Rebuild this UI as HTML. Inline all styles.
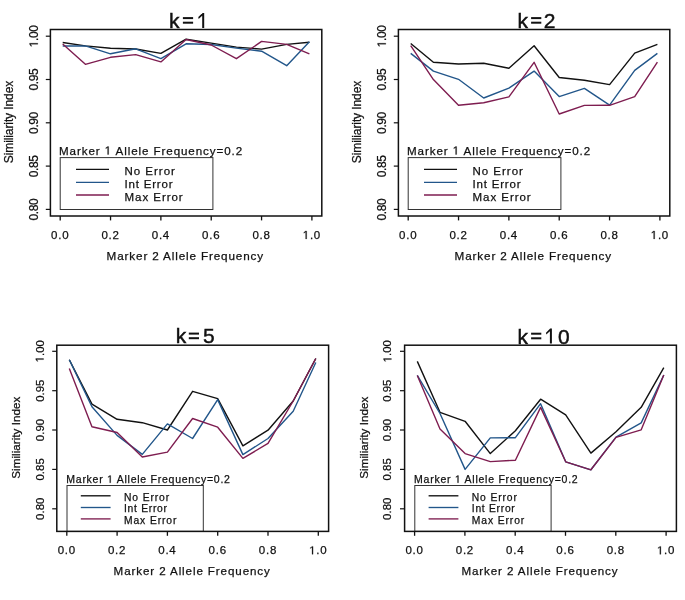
<!DOCTYPE html>
<html><head><meta charset="utf-8"><style>
html,body{margin:0;padding:0;background:#fff;}
svg{display:block;will-change:transform;}
text{font-family:"Liberation Sans", sans-serif;fill:#111;stroke:#111;stroke-width:0.25px;}
</style></head><body>
<svg width="685" height="600" viewBox="0 0 685 600">
<rect width="685" height="600" fill="#fff"/>
<defs><path id="one" d="M515,0 L515,1237 L197,1010 L197,1180 L530,1409 L696,1409 L696,0 Z"/></defs>
<polyline points="62.7,42.5 85.4,45.9 110.5,48.3 135.7,49 160.9,53.4 186.1,39.2 211.2,43.1 236.4,47.1 261.6,49.1 286.7,44.4 309.4,42.3" fill="none" stroke="#111111" stroke-width="1.4" stroke-linejoin="round"/>
<polyline points="62.7,46 85.4,45.9 110.5,53.8 135.7,48.8 160.9,58.6 186.1,43.8 211.2,44.5 236.4,48.1 261.6,51.2 286.7,65.7 309.4,41.8" fill="none" stroke="#22568a" stroke-width="1.4" stroke-linejoin="round"/>
<polyline points="62.7,44 85.4,64.3 110.5,57.3 135.7,54.6 160.9,61.9 186.1,39.5 211.2,45 236.4,58.7 261.6,41.4 286.7,44.4 309.4,53.8" fill="none" stroke="#7e1d50" stroke-width="1.4" stroke-linejoin="round"/>
<rect x="60.2" y="157.6" width="152.7" height="51.9" fill="none" stroke="#333" stroke-width="1"/>
<line x1="76" y1="169.4" x2="109" y2="169.4" stroke="#111111" stroke-width="1.35"/>
<line x1="76" y1="182.3" x2="109" y2="182.3" stroke="#22568a" stroke-width="1.35"/>
<line x1="76" y1="195" x2="109" y2="195" stroke="#7e1d50" stroke-width="1.35"/>
<text x="124.5" y="174.8" font-size="11.5" textLength="50.4" lengthAdjust="spacing">No Error</text>
<text x="124.5" y="187.8" font-size="11.5" textLength="48" lengthAdjust="spacing">Int Error</text>
<text x="124.5" y="200.7" font-size="11.5" textLength="58.2" lengthAdjust="spacing">Max Error</text>
<text x="59" y="154.5" font-size="11.6" textLength="183.1" lengthAdjust="spacing">Marker   Allele Frequency=0.2</text><use href="#one" transform="translate(104.69,154.50) scale(0.00566,-0.00566)" fill="#111" stroke="#111" stroke-width="44.1"/>
<rect x="50.4" y="29.5" width="271.4" height="186.5" fill="none" stroke="#111" stroke-width="1.5"/>
<line x1="45.8" y1="36.2" x2="50.4" y2="36.2" stroke="#111" stroke-width="1.2"/>
<text transform="translate(37.8,36.2) rotate(-90)" x="0" y="0" text-anchor="middle" font-size="12" textLength="22.2" lengthAdjust="spacing"> .00</text><use href="#one" transform="translate(37.8,36.2) rotate(-90) translate(-11.10,0.00) scale(0.00586,-0.00586)" fill="#111" stroke="#111" stroke-width="42.7"/>
<line x1="45.8" y1="79.5" x2="50.4" y2="79.5" stroke="#111" stroke-width="1.2"/>
<text transform="translate(37.8,79.5) rotate(-90)" x="0" y="0" text-anchor="middle" font-size="12" textLength="22.2" lengthAdjust="spacing">0.95</text>
<line x1="45.8" y1="122.8" x2="50.4" y2="122.8" stroke="#111" stroke-width="1.2"/>
<text transform="translate(37.8,122.8) rotate(-90)" x="0" y="0" text-anchor="middle" font-size="12" textLength="22.2" lengthAdjust="spacing">0.90</text>
<line x1="45.8" y1="166.1" x2="50.4" y2="166.1" stroke="#111" stroke-width="1.2"/>
<text transform="translate(37.8,166.1) rotate(-90)" x="0" y="0" text-anchor="middle" font-size="12" textLength="22.2" lengthAdjust="spacing">0.85</text>
<line x1="45.8" y1="209.4" x2="50.4" y2="209.4" stroke="#111" stroke-width="1.2"/>
<text transform="translate(37.8,209.4) rotate(-90)" x="0" y="0" text-anchor="middle" font-size="12" textLength="22.2" lengthAdjust="spacing">0.80</text>
<line x1="60.2" y1="216" x2="60.2" y2="220.4" stroke="#111" stroke-width="1.3"/>
<text x="59.8" y="238.9" text-anchor="middle" font-size="11.5" textLength="17.5" lengthAdjust="spacing">0.0</text>
<line x1="110.54" y1="216" x2="110.54" y2="220.4" stroke="#111" stroke-width="1.3"/>
<text x="110.14" y="238.9" text-anchor="middle" font-size="11.5" textLength="17.5" lengthAdjust="spacing">0.2</text>
<line x1="160.88" y1="216" x2="160.88" y2="220.4" stroke="#111" stroke-width="1.3"/>
<text x="160.48" y="238.9" text-anchor="middle" font-size="11.5" textLength="17.5" lengthAdjust="spacing">0.4</text>
<line x1="211.22" y1="216" x2="211.22" y2="220.4" stroke="#111" stroke-width="1.3"/>
<text x="210.82" y="238.9" text-anchor="middle" font-size="11.5" textLength="17.5" lengthAdjust="spacing">0.6</text>
<line x1="261.56" y1="216" x2="261.56" y2="220.4" stroke="#111" stroke-width="1.3"/>
<text x="261.16" y="238.9" text-anchor="middle" font-size="11.5" textLength="17.5" lengthAdjust="spacing">0.8</text>
<line x1="311.9" y1="216" x2="311.9" y2="220.4" stroke="#111" stroke-width="1.3"/>
<text x="311.5" y="238.9" text-anchor="middle" font-size="11.5" textLength="17.5" lengthAdjust="spacing"> .0</text><use href="#one" transform="translate(302.75,238.90) scale(0.00562,-0.00562)" fill="#111" stroke="#111" stroke-width="44.5"/>
<text x="106.6" y="259.9" font-size="11.7" textLength="156.5" lengthAdjust="spacing">Marker 2 Allele Frequency</text>
<text transform="translate(13.4,122) rotate(-90)" x="0" y="0" text-anchor="middle" font-size="12" textLength="82.5" lengthAdjust="spacing">Similiarity Index</text>
<text x="169.08" y="27.9" font-size="21" style="stroke-width:0.45px">k</text>
<rect x="182.9" y="17.1" width="10.2" height="2" fill="#111"/>
<rect x="182.9" y="21.7" width="10.2" height="2" fill="#111"/>
<path d="M202.2,13 L204.2,13 L204.2,27.9 L202.2,27.9 Z M202.5,13 L203.8,14.2 L198.6,18.9 L198.3,17.1 Z" fill="#111"/>
<polyline points="410.7,43.5 433.4,62.2 458.5,64 483.7,63.3 508.9,68.3 534.1,45.8 559.2,77.5 584.4,80.3 609.6,84.6 634.7,53.1 657.4,44.3" fill="none" stroke="#111111" stroke-width="1.4" stroke-linejoin="round"/>
<polyline points="410.7,53.4 433.4,71.1 458.5,79.3 483.7,98 508.9,88.1 534.1,71.1 559.2,96.6 584.4,88.4 609.6,105.1 634.7,70.4 657.4,53.4" fill="none" stroke="#22568a" stroke-width="1.4" stroke-linejoin="round"/>
<polyline points="410.7,45.6 433.4,79.6 458.5,105.3 483.7,102.7 508.9,96.9 534.1,62.3 559.2,114 584.4,105.4 609.6,105.3 634.7,96.6 657.4,62.2" fill="none" stroke="#7e1d50" stroke-width="1.4" stroke-linejoin="round"/>
<rect x="408.2" y="157.6" width="152.7" height="51.9" fill="none" stroke="#333" stroke-width="1"/>
<line x1="424" y1="169.4" x2="457" y2="169.4" stroke="#111111" stroke-width="1.35"/>
<line x1="424" y1="182.3" x2="457" y2="182.3" stroke="#22568a" stroke-width="1.35"/>
<line x1="424" y1="195" x2="457" y2="195" stroke="#7e1d50" stroke-width="1.35"/>
<text x="472.5" y="174.8" font-size="11.5" textLength="50.4" lengthAdjust="spacing">No Error</text>
<text x="472.5" y="187.8" font-size="11.5" textLength="48" lengthAdjust="spacing">Int Error</text>
<text x="472.5" y="200.7" font-size="11.5" textLength="58.2" lengthAdjust="spacing">Max Error</text>
<text x="407" y="154.5" font-size="11.6" textLength="183.1" lengthAdjust="spacing">Marker   Allele Frequency=0.2</text><use href="#one" transform="translate(452.69,154.50) scale(0.00566,-0.00566)" fill="#111" stroke="#111" stroke-width="44.1"/>
<rect x="398.4" y="29.5" width="271.4" height="186.5" fill="none" stroke="#111" stroke-width="1.5"/>
<line x1="393.8" y1="36.2" x2="398.4" y2="36.2" stroke="#111" stroke-width="1.2"/>
<text transform="translate(385.8,36.2) rotate(-90)" x="0" y="0" text-anchor="middle" font-size="12" textLength="22.2" lengthAdjust="spacing"> .00</text><use href="#one" transform="translate(385.8,36.2) rotate(-90) translate(-11.10,0.00) scale(0.00586,-0.00586)" fill="#111" stroke="#111" stroke-width="42.7"/>
<line x1="393.8" y1="79.5" x2="398.4" y2="79.5" stroke="#111" stroke-width="1.2"/>
<text transform="translate(385.8,79.5) rotate(-90)" x="0" y="0" text-anchor="middle" font-size="12" textLength="22.2" lengthAdjust="spacing">0.95</text>
<line x1="393.8" y1="122.8" x2="398.4" y2="122.8" stroke="#111" stroke-width="1.2"/>
<text transform="translate(385.8,122.8) rotate(-90)" x="0" y="0" text-anchor="middle" font-size="12" textLength="22.2" lengthAdjust="spacing">0.90</text>
<line x1="393.8" y1="166.1" x2="398.4" y2="166.1" stroke="#111" stroke-width="1.2"/>
<text transform="translate(385.8,166.1) rotate(-90)" x="0" y="0" text-anchor="middle" font-size="12" textLength="22.2" lengthAdjust="spacing">0.85</text>
<line x1="393.8" y1="209.4" x2="398.4" y2="209.4" stroke="#111" stroke-width="1.2"/>
<text transform="translate(385.8,209.4) rotate(-90)" x="0" y="0" text-anchor="middle" font-size="12" textLength="22.2" lengthAdjust="spacing">0.80</text>
<line x1="408.2" y1="216" x2="408.2" y2="220.4" stroke="#111" stroke-width="1.3"/>
<text x="407.8" y="238.9" text-anchor="middle" font-size="11.5" textLength="17.5" lengthAdjust="spacing">0.0</text>
<line x1="458.54" y1="216" x2="458.54" y2="220.4" stroke="#111" stroke-width="1.3"/>
<text x="458.14" y="238.9" text-anchor="middle" font-size="11.5" textLength="17.5" lengthAdjust="spacing">0.2</text>
<line x1="508.88" y1="216" x2="508.88" y2="220.4" stroke="#111" stroke-width="1.3"/>
<text x="508.48" y="238.9" text-anchor="middle" font-size="11.5" textLength="17.5" lengthAdjust="spacing">0.4</text>
<line x1="559.22" y1="216" x2="559.22" y2="220.4" stroke="#111" stroke-width="1.3"/>
<text x="558.82" y="238.9" text-anchor="middle" font-size="11.5" textLength="17.5" lengthAdjust="spacing">0.6</text>
<line x1="609.56" y1="216" x2="609.56" y2="220.4" stroke="#111" stroke-width="1.3"/>
<text x="609.16" y="238.9" text-anchor="middle" font-size="11.5" textLength="17.5" lengthAdjust="spacing">0.8</text>
<line x1="659.9" y1="216" x2="659.9" y2="220.4" stroke="#111" stroke-width="1.3"/>
<text x="659.5" y="238.9" text-anchor="middle" font-size="11.5" textLength="17.5" lengthAdjust="spacing"> .0</text><use href="#one" transform="translate(650.75,238.90) scale(0.00562,-0.00562)" fill="#111" stroke="#111" stroke-width="44.5"/>
<text x="454.6" y="259.9" font-size="11.7" textLength="156.5" lengthAdjust="spacing">Marker 2 Allele Frequency</text>
<text transform="translate(361.4,122) rotate(-90)" x="0" y="0" text-anchor="middle" font-size="12" textLength="82.5" lengthAdjust="spacing">Similiarity Index</text>
<text x="517.48" y="27.9" font-size="21" style="stroke-width:0.45px">k</text>
<rect x="531.1" y="17.1" width="10.2" height="2" fill="#111"/>
<rect x="531.1" y="21.7" width="10.2" height="2" fill="#111"/>
<text x="543.74" y="27.9" font-size="21" style="stroke-width:0.45px">2</text>
<polyline points="69.3,359.8 91.95,404.1 117.1,419.3 142.3,422.7 167.4,430 192.6,391.3 217.7,398.6 242.9,445.8 268,430.2 293.2,401 315.8,358.5" fill="none" stroke="#111111" stroke-width="1.4" stroke-linejoin="round"/>
<polyline points="69.3,359.8 91.95,406.7 117.1,435.4 142.3,454.4 167.4,423.9 192.6,438.5 217.7,399.6 242.9,454.6 268,438.5 293.2,411.2 315.8,362.5" fill="none" stroke="#22568a" stroke-width="1.4" stroke-linejoin="round"/>
<polyline points="69.3,368.4 91.95,426.8 117.1,432.5 142.3,457 167.4,452.1 192.6,418.5 217.7,427.2 242.9,458.4 268,443.4 293.2,401 315.8,358.5" fill="none" stroke="#7e1d50" stroke-width="1.4" stroke-linejoin="round"/>
<rect x="67" y="485.5" width="136.3" height="45.9" fill="none" stroke="#333" stroke-width="1"/>
<line x1="80.8" y1="495.8" x2="110.6" y2="495.8" stroke="#111111" stroke-width="1.35"/>
<line x1="80.8" y1="507.5" x2="110.6" y2="507.5" stroke="#22568a" stroke-width="1.35"/>
<line x1="80.8" y1="518.9" x2="110.6" y2="518.9" stroke="#7e1d50" stroke-width="1.35"/>
<text x="124" y="500.5" font-size="10.3" textLength="45.1" lengthAdjust="spacing">No Error</text>
<text x="124" y="512.4" font-size="10.3" textLength="43" lengthAdjust="spacing">Int Error</text>
<text x="124" y="523.8" font-size="10.3" textLength="52.4" lengthAdjust="spacing">Max Error</text>
<text x="66.3" y="482.8" font-size="10.5" textLength="163.6" lengthAdjust="spacing">Marker   Allele Frequency=0.2</text><use href="#one" transform="translate(107.10,482.80) scale(0.00513,-0.00513)" fill="#111" stroke="#111" stroke-width="48.8"/>
<rect x="56.8" y="345.2" width="271.8" height="186.2" fill="none" stroke="#111" stroke-width="1.5"/>
<line x1="52.2" y1="351.3" x2="56.8" y2="351.3" stroke="#111" stroke-width="1.2"/>
<text transform="translate(43.6,351.3) rotate(-90)" x="0" y="0" text-anchor="middle" font-size="11.4" textLength="22.3" lengthAdjust="spacing"> .00</text><use href="#one" transform="translate(43.6,351.3) rotate(-90) translate(-11.15,0.00) scale(0.00557,-0.00557)" fill="#111" stroke="#111" stroke-width="44.9"/>
<line x1="52.2" y1="390.7" x2="56.8" y2="390.7" stroke="#111" stroke-width="1.2"/>
<text transform="translate(43.6,390.7) rotate(-90)" x="0" y="0" text-anchor="middle" font-size="11.4" textLength="22.3" lengthAdjust="spacing">0.95</text>
<line x1="52.2" y1="430" x2="56.8" y2="430" stroke="#111" stroke-width="1.2"/>
<text transform="translate(43.6,430) rotate(-90)" x="0" y="0" text-anchor="middle" font-size="11.4" textLength="22.3" lengthAdjust="spacing">0.90</text>
<line x1="52.2" y1="469.4" x2="56.8" y2="469.4" stroke="#111" stroke-width="1.2"/>
<text transform="translate(43.6,469.4) rotate(-90)" x="0" y="0" text-anchor="middle" font-size="11.4" textLength="22.3" lengthAdjust="spacing">0.85</text>
<line x1="52.2" y1="508.8" x2="56.8" y2="508.8" stroke="#111" stroke-width="1.2"/>
<text transform="translate(43.6,508.8) rotate(-90)" x="0" y="0" text-anchor="middle" font-size="11.4" textLength="22.3" lengthAdjust="spacing">0.80</text>
<line x1="66.8" y1="531.4" x2="66.8" y2="535.8" stroke="#111" stroke-width="1.3"/>
<text x="66.4" y="554.3" text-anchor="middle" font-size="11.5" textLength="17.5" lengthAdjust="spacing">0.0</text>
<line x1="117.1" y1="531.4" x2="117.1" y2="535.8" stroke="#111" stroke-width="1.3"/>
<text x="116.7" y="554.3" text-anchor="middle" font-size="11.5" textLength="17.5" lengthAdjust="spacing">0.2</text>
<line x1="167.4" y1="531.4" x2="167.4" y2="535.8" stroke="#111" stroke-width="1.3"/>
<text x="167" y="554.3" text-anchor="middle" font-size="11.5" textLength="17.5" lengthAdjust="spacing">0.4</text>
<line x1="217.7" y1="531.4" x2="217.7" y2="535.8" stroke="#111" stroke-width="1.3"/>
<text x="217.3" y="554.3" text-anchor="middle" font-size="11.5" textLength="17.5" lengthAdjust="spacing">0.6</text>
<line x1="268" y1="531.4" x2="268" y2="535.8" stroke="#111" stroke-width="1.3"/>
<text x="267.6" y="554.3" text-anchor="middle" font-size="11.5" textLength="17.5" lengthAdjust="spacing">0.8</text>
<line x1="318.3" y1="531.4" x2="318.3" y2="535.8" stroke="#111" stroke-width="1.3"/>
<text x="317.9" y="554.3" text-anchor="middle" font-size="11.5" textLength="17.5" lengthAdjust="spacing"> .0</text><use href="#one" transform="translate(309.15,554.30) scale(0.00562,-0.00562)" fill="#111" stroke="#111" stroke-width="44.5"/>
<text x="113.6" y="575.3" font-size="11.6" textLength="156.2" lengthAdjust="spacing">Marker 2 Allele Frequency</text>
<text transform="translate(20,437.7) rotate(-90)" x="0" y="0" text-anchor="middle" font-size="11.6" textLength="82" lengthAdjust="spacing">Similiarity Index</text>
<text x="175.78" y="343.4" font-size="21" style="stroke-width:0.45px">k</text>
<rect x="188.8" y="332.6" width="10.2" height="2" fill="#111"/>
<rect x="188.8" y="337.2" width="10.2" height="2" fill="#111"/>
<text x="203.06" y="343.4" font-size="21" style="stroke-width:0.45px">5</text>
<polyline points="417.3,361.4 440,412.3 465.1,421.3 490.3,453.6 515.4,430.7 540.6,399.2 565.7,414.9 590.9,453.1 616,431.7 641.2,407.3 663.8,367.7" fill="none" stroke="#111111" stroke-width="1.4" stroke-linejoin="round"/>
<polyline points="417.3,375.4 440,413.5 465.1,469.4 490.3,437.9 515.4,437.7 540.6,403.7 565.7,461.8 590.9,469.8 616,437.1 641.2,422.9 663.8,375" fill="none" stroke="#22568a" stroke-width="1.4" stroke-linejoin="round"/>
<polyline points="417.3,375.4 440,428.9 465.1,453.6 490.3,461.6 515.4,460.2 540.6,407.4 565.7,461.8 590.9,469.8 616,437.4 641.2,429.8 663.8,375" fill="none" stroke="#7e1d50" stroke-width="1.4" stroke-linejoin="round"/>
<rect x="414.8" y="485.5" width="136.3" height="45.9" fill="none" stroke="#333" stroke-width="1"/>
<line x1="428.6" y1="495.8" x2="458.4" y2="495.8" stroke="#111111" stroke-width="1.35"/>
<line x1="428.6" y1="507.5" x2="458.4" y2="507.5" stroke="#22568a" stroke-width="1.35"/>
<line x1="428.6" y1="518.9" x2="458.4" y2="518.9" stroke="#7e1d50" stroke-width="1.35"/>
<text x="471.8" y="500.5" font-size="10.3" textLength="45.1" lengthAdjust="spacing">No Error</text>
<text x="471.8" y="512.4" font-size="10.3" textLength="43" lengthAdjust="spacing">Int Error</text>
<text x="471.8" y="523.8" font-size="10.3" textLength="52.4" lengthAdjust="spacing">Max Error</text>
<text x="414.1" y="482.8" font-size="10.5" textLength="163.6" lengthAdjust="spacing">Marker   Allele Frequency=0.2</text><use href="#one" transform="translate(454.90,482.80) scale(0.00513,-0.00513)" fill="#111" stroke="#111" stroke-width="48.8"/>
<rect x="404.6" y="345.2" width="271.8" height="186.2" fill="none" stroke="#111" stroke-width="1.5"/>
<line x1="400" y1="351.3" x2="404.6" y2="351.3" stroke="#111" stroke-width="1.2"/>
<text transform="translate(391.4,351.3) rotate(-90)" x="0" y="0" text-anchor="middle" font-size="11.4" textLength="22.3" lengthAdjust="spacing"> .00</text><use href="#one" transform="translate(391.4,351.3) rotate(-90) translate(-11.15,0.00) scale(0.00557,-0.00557)" fill="#111" stroke="#111" stroke-width="44.9"/>
<line x1="400" y1="390.7" x2="404.6" y2="390.7" stroke="#111" stroke-width="1.2"/>
<text transform="translate(391.4,390.7) rotate(-90)" x="0" y="0" text-anchor="middle" font-size="11.4" textLength="22.3" lengthAdjust="spacing">0.95</text>
<line x1="400" y1="430" x2="404.6" y2="430" stroke="#111" stroke-width="1.2"/>
<text transform="translate(391.4,430) rotate(-90)" x="0" y="0" text-anchor="middle" font-size="11.4" textLength="22.3" lengthAdjust="spacing">0.90</text>
<line x1="400" y1="469.4" x2="404.6" y2="469.4" stroke="#111" stroke-width="1.2"/>
<text transform="translate(391.4,469.4) rotate(-90)" x="0" y="0" text-anchor="middle" font-size="11.4" textLength="22.3" lengthAdjust="spacing">0.85</text>
<line x1="400" y1="508.8" x2="404.6" y2="508.8" stroke="#111" stroke-width="1.2"/>
<text transform="translate(391.4,508.8) rotate(-90)" x="0" y="0" text-anchor="middle" font-size="11.4" textLength="22.3" lengthAdjust="spacing">0.80</text>
<line x1="414.6" y1="531.4" x2="414.6" y2="535.8" stroke="#111" stroke-width="1.3"/>
<text x="414.2" y="554.3" text-anchor="middle" font-size="11.5" textLength="17.5" lengthAdjust="spacing">0.0</text>
<line x1="464.9" y1="531.4" x2="464.9" y2="535.8" stroke="#111" stroke-width="1.3"/>
<text x="464.5" y="554.3" text-anchor="middle" font-size="11.5" textLength="17.5" lengthAdjust="spacing">0.2</text>
<line x1="515.2" y1="531.4" x2="515.2" y2="535.8" stroke="#111" stroke-width="1.3"/>
<text x="514.8" y="554.3" text-anchor="middle" font-size="11.5" textLength="17.5" lengthAdjust="spacing">0.4</text>
<line x1="565.5" y1="531.4" x2="565.5" y2="535.8" stroke="#111" stroke-width="1.3"/>
<text x="565.1" y="554.3" text-anchor="middle" font-size="11.5" textLength="17.5" lengthAdjust="spacing">0.6</text>
<line x1="615.8" y1="531.4" x2="615.8" y2="535.8" stroke="#111" stroke-width="1.3"/>
<text x="615.4" y="554.3" text-anchor="middle" font-size="11.5" textLength="17.5" lengthAdjust="spacing">0.8</text>
<line x1="666.1" y1="531.4" x2="666.1" y2="535.8" stroke="#111" stroke-width="1.3"/>
<text x="665.7" y="554.3" text-anchor="middle" font-size="11.5" textLength="17.5" lengthAdjust="spacing"> .0</text><use href="#one" transform="translate(656.95,554.30) scale(0.00562,-0.00562)" fill="#111" stroke="#111" stroke-width="44.5"/>
<text x="461.4" y="575.3" font-size="11.6" textLength="156.2" lengthAdjust="spacing">Marker 2 Allele Frequency</text>
<text transform="translate(367.8,437.7) rotate(-90)" x="0" y="0" text-anchor="middle" font-size="11.6" textLength="82" lengthAdjust="spacing">Similiarity Index</text>
<text x="517.38" y="343.5" font-size="21" style="stroke-width:0.45px">k</text>
<rect x="531.1" y="332.7" width="10.2" height="2" fill="#111"/>
<rect x="531.1" y="337.3" width="10.2" height="2" fill="#111"/>
<path d="M549.9,328.6 L551.9,328.6 L551.9,343.5 L549.9,343.5 Z M550.2,328.6 L551.5,329.8 L546.3,334.5 L546,332.7 Z" fill="#111"/>
<text x="557.88" y="343.5" font-size="21" style="stroke-width:0.45px">0</text>
</svg>
</body></html>
